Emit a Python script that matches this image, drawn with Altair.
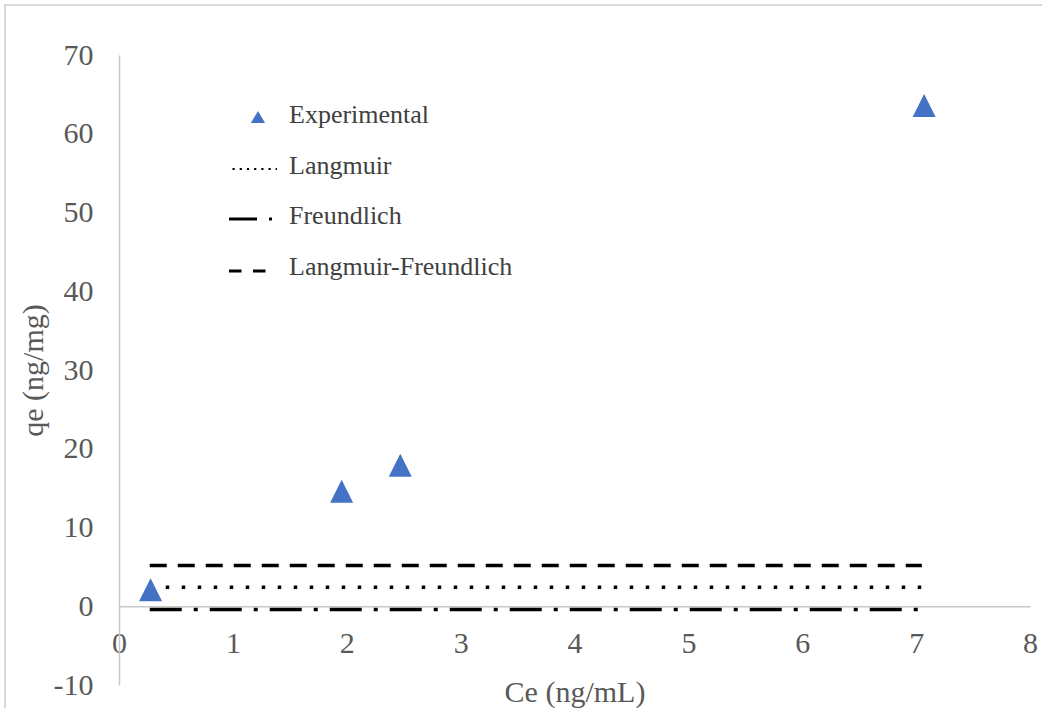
import altair as alt
import pandas as pd

# Experimental points
ce_exp = [0.277, 1.955, 2.47, 7.07]
qe_exp = [2.1, 14.6, 17.9, 63.6]

# Fitted model curves (flat in the picture)
fit_ce = [0.27, 7.05]
langmuir_qe = [2.4, 2.4]
freundlich_qe = [-0.42, -0.42]
lf_qe = [5.17, 5.17]

x_ticks = [0, 1, 2, 3, 4, 5, 6, 7, 8]
y_ticks = [-10, 0, 10, 20, 30, 40, 50, 60, 70]

legend_labels = ["Experimental", "Langmuir", "Freundlich", "Langmuir-Freundlich"]
legend_rows = [60, 111, 161, 212]

FONT = "Liberation Serif"
AXIS_GRAY = "#c8c8c8"
LABEL_GRAY = "#595959"
BLUE = "#4472C4"

W, H = 911, 630

x_enc = alt.X(
    "Ce:Q",
    scale=alt.Scale(domain=[0, 8], nice=False, zero=False),
    axis=alt.Axis(
        values=x_ticks, grid=False, ticks=False, tickSize=0,
        domainColor=AXIS_GRAY, domainWidth=1.5,
        labelFont=FONT, labelFontSize=30, labelColor=LABEL_GRAY, labelPadding=22,
        labelFlush=False, labelExpr="'' + datum.value",
        offset=-78.75,
        title="Ce (ng/mL)", titleFont=FONT, titleFontSize=30, titleFontWeight="normal",
        titleColor=LABEL_GRAY, titleY=95, titleBaseline="alphabetic",
    ),
)
y_enc = alt.Y(
    "qe:Q",
    scale=alt.Scale(domain=[-10, 70], nice=False, zero=False),
    axis=alt.Axis(
        values=y_ticks, grid=False, ticks=False, tickSize=0,
        domainColor=AXIS_GRAY, domainWidth=1.5,
        labelFont=FONT, labelFontSize=30, labelColor=LABEL_GRAY, labelPadding=26,
        labelFlush=False, labelExpr="'' + datum.value",
        title="qe (ng/mg)", titleFont=FONT, titleFontSize=30, titleFontWeight="normal",
        titleColor=LABEL_GRAY, titleAngle=270, titleX=-86, titleY=H / 2,
        titleBaseline="middle", titleAlign="center",
    ),
)

exp_df = pd.DataFrame({"Ce": ce_exp, "qe": qe_exp})
lang_df = pd.DataFrame({"Ce": fit_ce, "qe": langmuir_qe})
freu_df = pd.DataFrame({"Ce": fit_ce, "qe": freundlich_qe})
lf_df = pd.DataFrame({"Ce": fit_ce, "qe": lf_qe})

lf_line = alt.Chart(lf_df).mark_line(
    color="black", strokeWidth=3.5, strokeDash=[17, 11], strokeCap="butt"
).encode(x=x_enc, y=y_enc)
lang_line = alt.Chart(lang_df).mark_line(
    color="black", strokeWidth=3.5, strokeDash=[3.5, 12.5], strokeCap="butt"
).encode(x=x_enc, y=y_enc)
freu_line = alt.Chart(freu_df).mark_line(
    color="black", strokeWidth=3.5, strokeDash=[32, 12, 4, 12], strokeCap="butt"
).encode(x=x_enc, y=y_enc)

points = alt.Chart(exp_df).mark_point(
    shape="M0,-1L-1,1L1,1Z", size=529, filled=True, color=BLUE, opacity=1, strokeWidth=0
).encode(x=x_enc, y=y_enc)

# Legend (drawn by hand, positioned in plot pixels)
one = pd.DataFrame({"k": [0]})
leg_tri = alt.Chart(one).mark_point(
    shape="triangle-up", size=200, filled=True, color=BLUE, opacity=1, strokeWidth=0
).encode(x=alt.value(139), y=alt.value(62))
leg_lang = alt.Chart(one).mark_rule(
    color="black", strokeWidth=2.2, strokeDash=[2.2, 5], strokeCap="butt"
).encode(x=alt.value(113.5), x2=alt.value(158), y=alt.value(114))
leg_freu = alt.Chart(one).mark_rule(
    color="black", strokeWidth=3, strokeDash=[28, 12, 3, 50], strokeCap="butt"
).encode(x=alt.value(110), x2=alt.value(153), y=alt.value(164))
leg_lf = alt.Chart(one).mark_rule(
    color="black", strokeWidth=3, strokeDash=[12.5, 11.5], strokeCap="butt"
).encode(x=alt.value(110), x2=alt.value(150), y=alt.value(216))

leg_texts = []
for lab, yy in zip(legend_labels, legend_rows):
    leg_texts.append(
        alt.Chart(pd.DataFrame({"label": [lab]})).mark_text(
            align="left", baseline="middle", font=FONT, fontSize=26, color="#404040"
        ).encode(x=alt.value(170), y=alt.value(yy), text=alt.Text("label:N"))
    )

border = alt.Chart(one).mark_rect(
    fillOpacity=0, stroke="#d9d9d9", strokeWidth=2
).encode(x=alt.value(-114), x2=alt.value(1060), y=alt.value(-50), y2=alt.value(720))

chart = alt.layer(
    border, lf_line, lang_line, freu_line, points,
    leg_tri, leg_lang, leg_freu, leg_lf, *leg_texts
).properties(
    width=W, height=H,
    autosize=alt.AutoSizeParams(type="none"),
    padding={"left": 119, "top": 55, "right": 12, "bottom": 23},
    background="white",
).configure(
    font=FONT
).configure_text(
    font=FONT
).configure_view(stroke=None)

chart.save("out.html", embed_options={"renderer": "svg", "actions": False})
